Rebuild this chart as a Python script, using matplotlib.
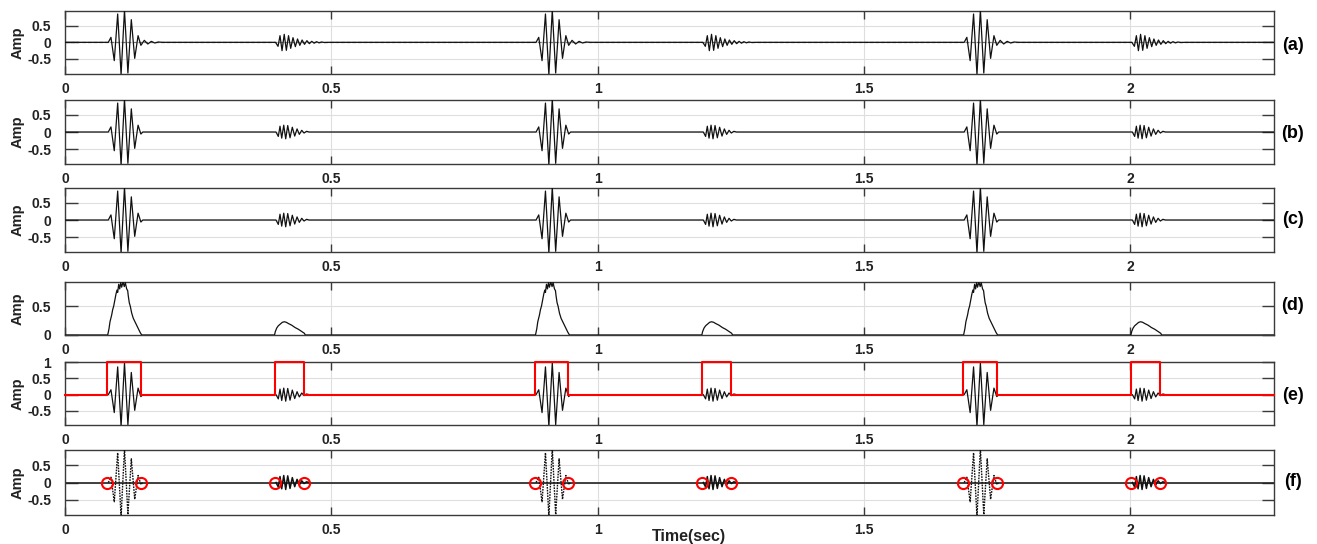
import numpy as np
import matplotlib
matplotlib.use("Agg")
import matplotlib.pyplot as plt

plt.rcParams['font.family'] = ['Liberation Sans', 'DejaVu Sans']

# ---------------- data ----------------
# detection window starts (s) and widths (s)
big_starts = [0.0794, 0.8826, 1.6864]
small_starts = [0.3934, 1.1957, 2.0013]
big_width = 0.0627
small_width = 0.0554

# big burst extrema: offsets (ms) from window start, amplitudes
big_t_ms = [1.9, 6.9, 13.1, 19.5, 25.9, 32.3, 38.7, 45.1, 51.5, 57.8, 63.1, 66.7]
big_amp = [0.0, 0.15, -0.55, 0.85, -0.97, 0.97, -0.92, 0.68, -0.48, 0.2, -0.06, 0.0]

# small burst extrema
small_t_ms = [2.8, 7.1, 10.3, 13.5, 17.3, 21.0, 24.8, 29.1, 33.4, 37.9, 42.3, 46.6, 51.1, 55.4, 60.1, 64.8]
small_amp = [0.0, -0.13, 0.17, -0.18, 0.2, -0.2, 0.19, -0.17, 0.14, -0.12, 0.09, -0.07, 0.05, -0.03, 0.02, 0.0]

# raw signal (a): bursts with longer ringing tails
raw_big_t_ms = [1.9, 6.9, 13.1, 19.5, 25.9, 32.3, 38.7, 45.1, 51.5, 57.8, 63.1, 69.5, 76.1, 82.6, 89.2, 95.8, 103.3]
raw_big_amp = [0.0, 0.15, -0.55, 0.85, -0.97, 0.97, -0.92, 0.68, -0.48, 0.2, -0.09, 0.06, -0.05, 0.03, -0.02, 0.01, 0.0]
raw_small_t_ms = [1.9, 6.6, 10.3, 14.1, 18.2, 22.2, 26.3, 30.4, 34.7, 39.1, 43.2, 47.5, 51.8, 56.3, 60.8,
                  65.4, 69.9, 74.4, 78.9, 83.6, 88.3, 93.9, 101.4]
raw_small_amp = [0.0, -0.12, 0.2, -0.25, 0.24, -0.24, 0.2, -0.18, 0.14, -0.13, 0.1, -0.09, 0.07, -0.06, 0.05,
                 -0.04, 0.03, -0.025, 0.02, -0.015, 0.01, -0.005, 0.0]

# envelopes (d)
env_big_t_ms = [0.8, 3.2, 5.1, 8.3, 10.1, 12.0, 14.5, 16.3, 18.2, 19.5, 21.4, 23.3, 25.2, 27.0, 29.5, 31.9,
                33.8, 36.4, 38.3, 39.4, 41.3, 43.2, 45.8, 48.8, 52.0, 55.2, 58.2, 61.4, 64.6]
env_big_amp = [0.0, 0.108, 0.23, 0.35, 0.44, 0.50, 0.62, 0.71, 0.78, 0.74, 0.88, 0.80, 0.91, 0.83, 0.92, 0.84,
               0.91, 0.80, 0.77, 0.68, 0.56, 0.50, 0.38, 0.29, 0.23, 0.17, 0.11, 0.05, 0.0]
env_small_t_ms = [0.0, 1.5, 4.1, 7.1, 10.9, 14.6, 18.4, 22.2, 25.9, 32.3, 38.5, 44.7, 51.1, 56.0, 57.8]
env_small_amp = [0.0, 0.06, 0.12, 0.16, 0.19, 0.22, 0.23, 0.22, 0.20, 0.17, 0.13, 0.10, 0.06, 0.03, 0.0]

x_ticks = [0, 0.5, 1, 1.5, 2]
x_ticklabels = ['0', '0.5', '1', '1.5', '2']
panel_letters = ['(a)', '(b)', '(c)', '(d)', '(e)', '(f)']

XMAX = 2.27


def build(starts_big, starts_small, tb, ab, ts, as_):
    xs, ys = [0.0], [0.0]
    events = []
    for s in starts_big:
        events.append((s, tb, ab))
    for s in starts_small:
        events.append((s, ts, as_))
    events.sort(key=lambda e: e[0])
    for s, t, a in events:
        for ti, ai in zip(t, a):
            xs.append(s + ti / 1000.0)
            ys.append(ai)
    xs.append(XMAX)
    ys.append(0.0)
    return np.array(xs), np.array(ys)


def segments(starts, t, a):
    out = []
    for s in starts:
        out.append((np.array([s + ti / 1000.0 for ti in t]), np.array(a)))
    return out


W, H = 1317, 544
fig = plt.figure(figsize=(W / 100, H / 100), dpi=100)

panel_px = [(11, 74), (100, 164), (188, 252), (282, 335), (362, 425), (450, 515)]
letter_y = [45, 134, 220, 306, 395, 482]
left_px, right_px = 65, 1274

ylims = [(-0.95, 0.94), (-0.94, 0.94), (-0.94, 0.94), (0, 0.92), (-0.93, 1.0), (-0.93, 0.93)]
yticks = [[-0.5, 0, 0.5], [-0.5, 0, 0.5], [-0.5, 0, 0.5], [0, 0.5], [-0.5, 0, 0.5, 1], [-0.5, 0, 0.5]]

spine_c = '#3a3a3a'
txt_c = '#222222'

axes = []
for i, (top, bot) in enumerate(panel_px):
    ax = fig.add_axes([left_px / W, 1 - bot / H, (right_px - left_px) / W, (bot - top) / H])
    ax.set_xlim(0, XMAX)
    ax.set_ylim(*ylims[i])
    ax.set_xticks(x_ticks)
    ax.set_xticklabels(x_ticklabels)
    ax.set_yticks(yticks[i])
    ax.set_yticklabels([('%g' % v) for v in yticks[i]])
    ax.grid(True, color='#dedede', lw=0.8)
    ax.set_axisbelow(True)
    ax.tick_params(axis='x', direction='in', length=6, width=1.0, color=spine_c, top=True, bottom=True,
                   pad=6, labelsize=10, labelcolor=txt_c)
    ax.tick_params(axis='y', direction='in', length=9, width=1.0, color=spine_c, left=True, right=True,
                   pad=10, labelsize=10, labelcolor=txt_c)
    for lab in ax.get_xticklabels() + ax.get_yticklabels():
        lab.set_fontweight('bold')
    for sp in ax.spines.values():
        sp.set_color(spine_c)
        sp.set_linewidth(1.0)
    fig.text(18 / W, 1 - ((top + bot) / 2) / H, 'Amp', rotation=90, ha='center', va='center',
             fontsize=10.5, fontweight='bold', color=txt_c)
    fig.text(1293 / W, 1 - letter_y[i] / H, panel_letters[i], ha='center', va='center',
             fontsize=13, fontweight='bold', color='black')
    axes.append(ax)

sig_c = '#111111'

# (a) raw
ax = axes[0]
ax.axhline(0, color='#777777', lw=0.9, ls=(0, (3, 1.5)), zorder=2)
x, y = build(big_starts, small_starts, raw_big_t_ms, raw_big_amp, raw_small_t_ms, raw_small_amp)
ax.plot(x, y, color=sig_c, lw=0.9, zorder=3)

# (b), (c)
for k in (1, 2):
    x, y = build(big_starts, small_starts, big_t_ms, big_amp, small_t_ms, small_amp)
    axes[k].plot(x, y, color=sig_c, lw=0.9, zorder=3)

# (d) envelope
ax = axes[3]
x, y = build(big_starts, small_starts, env_big_t_ms, env_big_amp, env_small_t_ms, env_small_amp)
ax.plot(x, y, color=sig_c, lw=0.9, zorder=3, clip_on=True)

# (e) signal + windows
ax = axes[4]
x, y = build(big_starts, small_starts, big_t_ms, big_amp, small_t_ms, small_amp)
ax.plot(x, y, color=sig_c, lw=0.9, zorder=3)
wx, wy = [0.0], [0.0]
for s, w in sorted([(s, big_width) for s in big_starts] + [(s, small_width) for s in small_starts]):
    wx += [s, s, s + w, s + w]
    wy += [0, 1, 1, 0]
wx.append(XMAX)
wy.append(0)
ax.plot(wx, wy, color='#ff0000', lw=1.5, zorder=4, clip_on=False)

# (f) detected segments with onset/offset markers
ax = axes[5]
ax.axhline(0, color='#222222', lw=1.2, zorder=2)
for xs, ys in segments(big_starts, big_t_ms, big_amp):
    ax.plot(xs, ys, color=sig_c, lw=1.0, ls=(0, (1.2, 0.8)), zorder=3)
for xs, ys in segments(small_starts, small_t_ms, small_amp):
    ax.plot(xs, ys, color=sig_c, lw=1.1, zorder=3)
mx = []
for s in big_starts:
    mx += [s, s + big_width]
for s in small_starts:
    mx += [s, s + small_width]
ax.plot(mx, [0] * len(mx), ls='none', marker='o', ms=8, mfc='none', mec='#ff0000', mew=1.5, zorder=5)

fig.text(689 / W, 1 - 537 / H, 'Time(sec)', ha='center', va='center', fontsize=11.5,
         fontweight='bold', color=txt_c)

fig.savefig('out.png', dpi=100)
